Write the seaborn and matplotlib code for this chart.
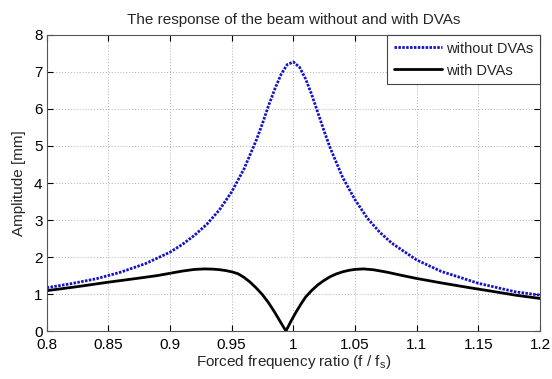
import matplotlib
matplotlib.use("Agg")
import matplotlib.pyplot as plt
import matplotlib.ticker as mticker
import seaborn as sns

# blue dotted curve: beam without absorbers
ratio_without = [0.80, 0.82, 0.84, 0.86, 0.88, 0.90, 0.91, 0.92, 0.93, 0.94,
                 0.95, 0.96, 0.97, 0.975, 0.98, 0.985, 0.99, 0.995, 1.00,
                 1.005, 1.01, 1.015, 1.02, 1.025, 1.03, 1.04, 1.05, 1.06,
                 1.07, 1.08, 1.10, 1.12, 1.15, 1.18, 1.20]
amp_without = [1.17, 1.28, 1.41, 1.59, 1.82, 2.13, 2.34, 2.59, 2.89, 3.27,
               3.76, 4.38, 5.16, 5.61, 6.10, 6.54, 6.93, 7.20, 7.27,
               7.13, 6.81, 6.38, 5.89, 5.40, 4.94, 4.15, 3.55, 3.05,
               2.67, 2.37, 1.92, 1.61, 1.29, 1.06, 0.97]

# black solid curve: beam with absorbers
ratio_with = [0.80, 0.825, 0.85, 0.875, 0.89, 0.90, 0.91, 0.92, 0.928,
              0.935, 0.94, 0.945, 0.95, 0.955, 0.96, 0.965, 0.97, 0.975,
              0.98, 0.985, 0.99, 0.994, 0.998, 1.002, 1.006, 1.010, 1.015,
              1.02, 1.025, 1.03, 1.035, 1.04, 1.045, 1.05, 1.057, 1.065,
              1.076, 1.087, 1.10, 1.12, 1.143, 1.16, 1.18, 1.20]
amp_with = [1.09, 1.20, 1.32, 1.43, 1.50, 1.56, 1.62, 1.665, 1.678,
            1.672, 1.658, 1.635, 1.60, 1.55, 1.45, 1.32, 1.16, 0.98,
            0.76, 0.50, 0.22, 0.0, 0.26, 0.50, 0.72, 0.92, 1.10,
            1.25, 1.37, 1.47, 1.545, 1.60, 1.64, 1.665, 1.678, 1.655,
            1.59, 1.51, 1.42, 1.30, 1.17, 1.08, 0.97, 0.88]

x_ticks = [0.8, 0.85, 0.9, 0.95, 1.0, 1.05, 1.1, 1.15, 1.2]
y_ticks = [0, 1, 2, 3, 4, 5, 6, 7, 8]

sns.set_style("ticks")
plt.rcParams["font.family"] = ["Liberation Sans", "DejaVu Sans"]
plt.rcParams["mathtext.fontset"] = "custom"
plt.rcParams["mathtext.rm"] = "Liberation Sans"

fig = plt.figure(figsize=(5.52, 3.79), dpi=100)
ax = fig.add_axes([0.0846, 0.1266, 0.8936, 0.7811])

sns.lineplot(x=ratio_without, y=amp_without, ax=ax, color="#1212c8",
             linestyle=(0, (0.9, 0.5)), linewidth=2.0, label="without DVAs",
             sort=False)
sns.lineplot(x=ratio_with, y=amp_with, ax=ax, color="black",
             linewidth=2.0, label="with DVAs", sort=False)

ax.set_xlim(0.8, 1.2)
ax.set_ylim(0, 8)
ax.set_xticks(x_ticks)
ax.set_yticks(y_ticks)
ax.xaxis.set_major_formatter(mticker.FormatStrFormatter("%g"))
ax.grid(True, color="#b0b0b0", linestyle=(0, (1, 2)), linewidth=0.7)
ax.tick_params(direction="in", top=True, right=True, length=4,
               labelsize=11, colors="black")
ax.tick_params(axis="x", pad=5)
ax.tick_params(axis="y", pad=3)
for s in ax.spines.values():
    s.set_color("#555555")
    s.set_linewidth(0.8)

ax.set_title("The response of the beam without and with DVAs",
             fontsize=11, pad=8)
ax.set_xlabel("Forced frequency ratio (f / f$_\\mathregular{s}$)",
              fontsize=11, labelpad=1)
ax.set_ylabel("Amplitude [mm]", fontsize=11, labelpad=6)

leg = ax.legend(loc="upper right", borderaxespad=0, fancybox=False,
                framealpha=1, edgecolor="#444444", fontsize=10.5,
                handlelength=3.3, handletextpad=0.3, borderpad=0.45,
                labelspacing=0.55)
leg.get_frame().set_linewidth(0.8)

fig.savefig("out.png", dpi=100)
